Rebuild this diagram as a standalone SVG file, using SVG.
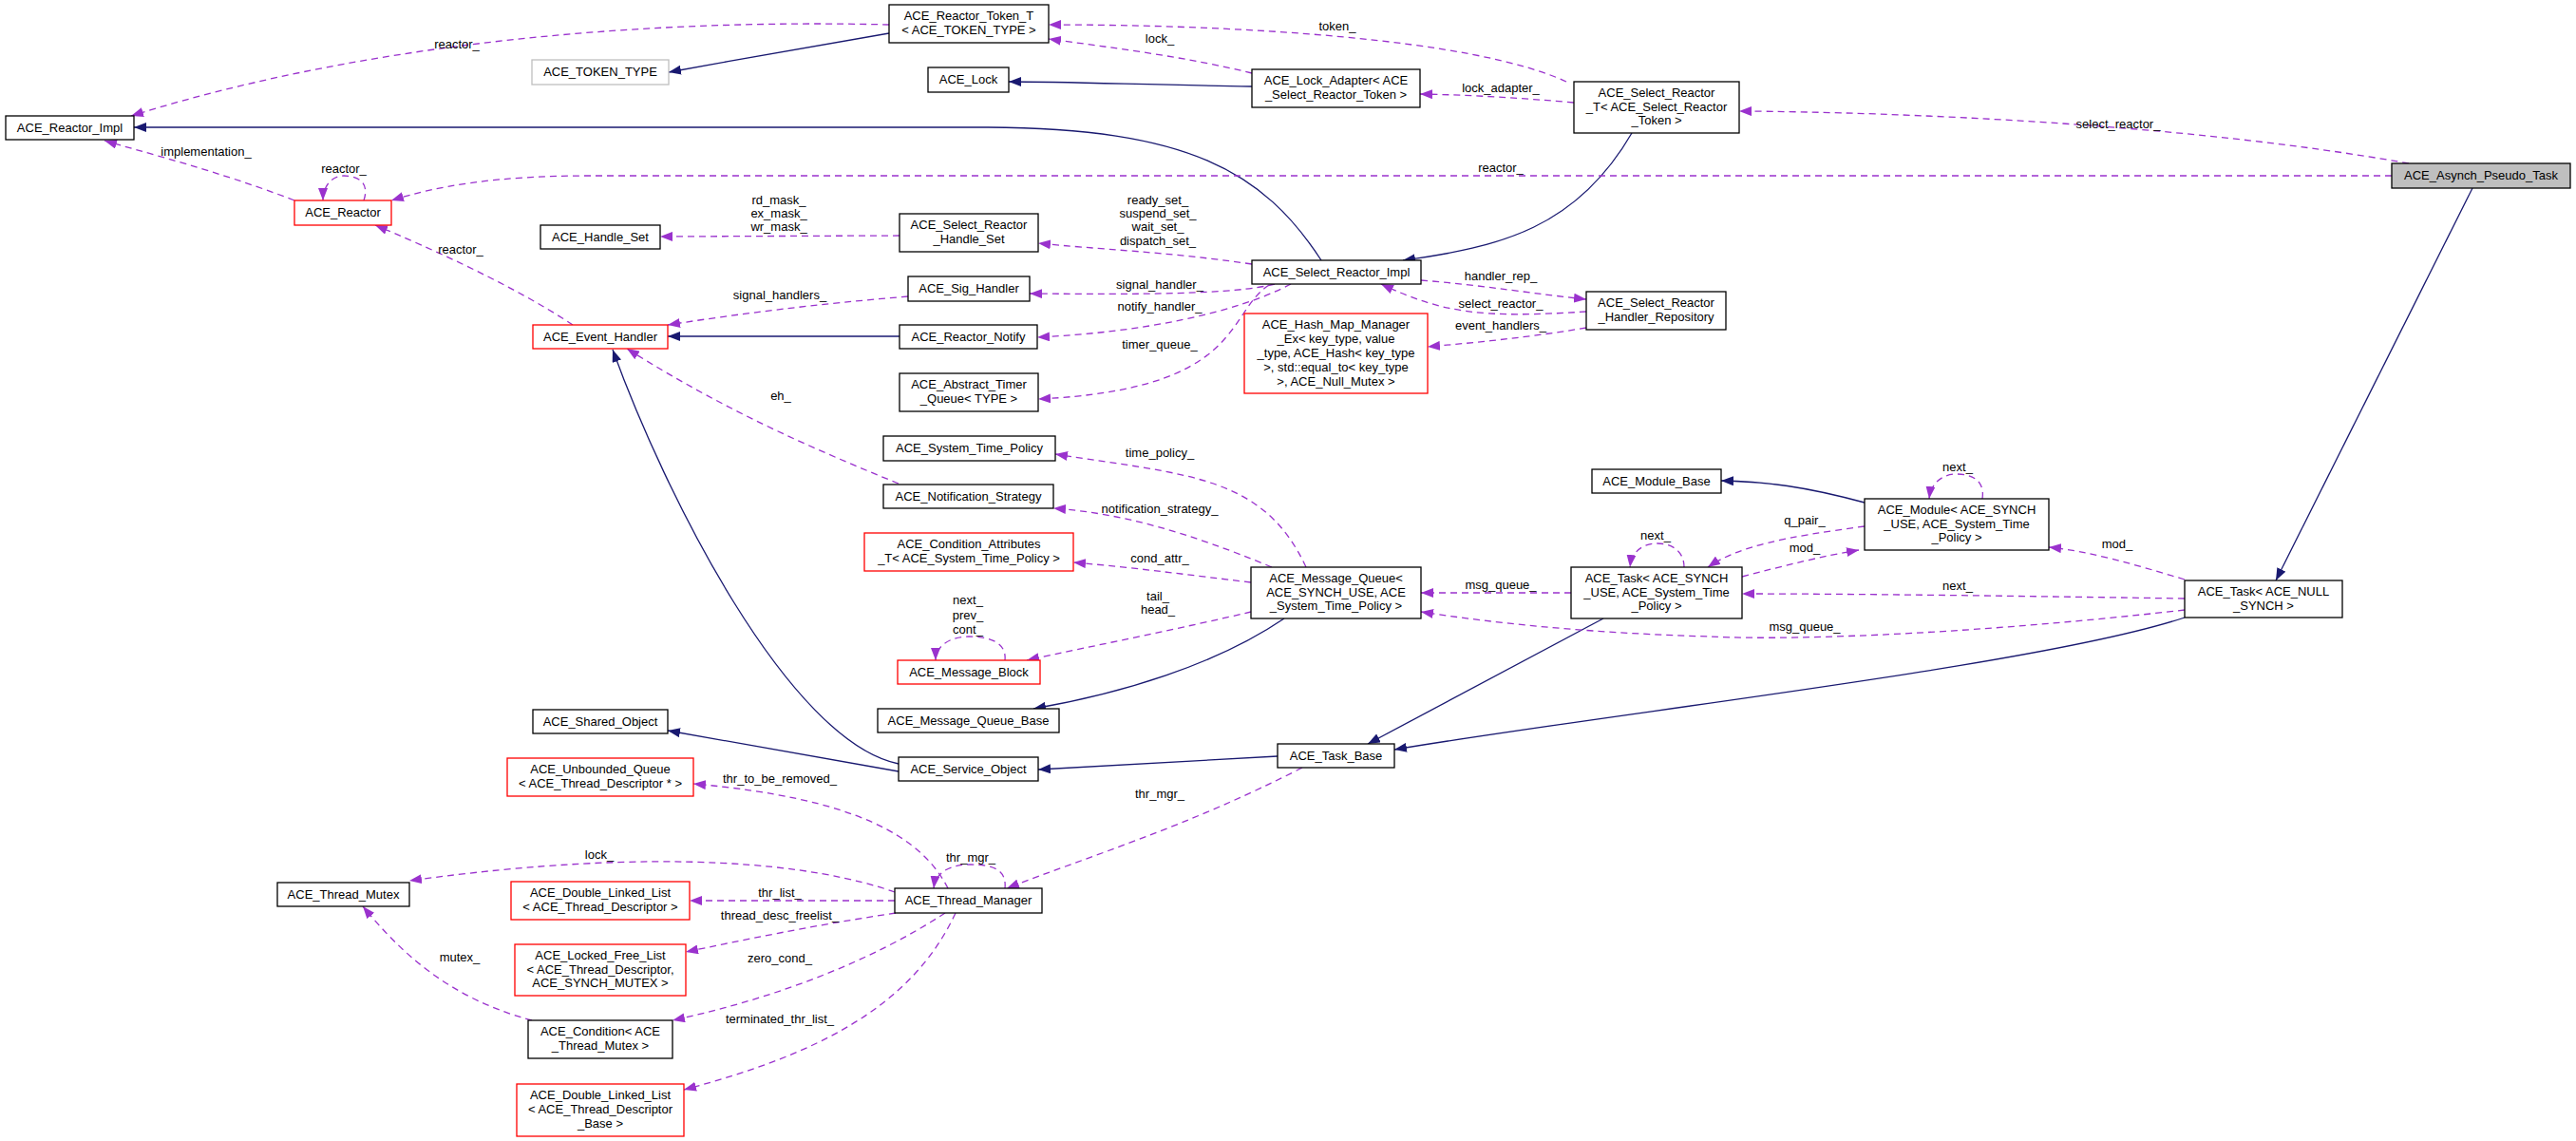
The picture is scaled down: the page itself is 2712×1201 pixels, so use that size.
<svg xmlns="http://www.w3.org/2000/svg" width="2712" height="1201" viewBox="0 0 2712 1201">
<style>
text{font-family:"Liberation Sans",Arial,sans-serif;font-size:13px;fill:#000}
.n text{text-anchor:middle}
.b{fill:#fff;stroke:#000;stroke-width:1.3}
.r{fill:#fff;stroke:#ff0000;stroke-width:1.3}
.g{fill:#fff;stroke:#bfbfbf;stroke-width:1.3}
.root{fill:#bfbfbf;stroke:#000;stroke-width:1.3}
.i{fill:none;stroke:#191970;stroke-width:1.3;marker-end:url(#ai)}
.u{fill:none;stroke:#9a32cd;stroke-width:1.3;stroke-dasharray:7,5;marker-end:url(#au)}
.l{text-anchor:middle}
</style>
<defs>
<marker id="ai" markerUnits="userSpaceOnUse" markerWidth="14" markerHeight="10" refX="13" refY="5" orient="auto"><path d="M0,0 L13,5 L0,10 z" fill="#191970"/></marker>
<marker id="au" markerUnits="userSpaceOnUse" markerWidth="14" markerHeight="10" refX="13" refY="5" orient="auto"><path d="M0,0 L13,5 L0,10 z" fill="#9a32cd"/></marker>
</defs>
<rect width="2712" height="1201" fill="#fff"/>
<g id="edges">
<path class="i" d="M936,35 C850,50 780,62 704,76"/>
<path class="i" d="M1318,91 C1200,89 1120,86 1062,86"/>
<path class="i" d="M1391,274 C1330,180 1250,135 1040,134 L141,134"/>
<path class="i" d="M1718,140 C1660,240 1580,260 1477,274"/>
<path class="i" d="M947,354 L703,354"/>
<path class="i" d="M946,804 C830,780 700,520 645,368"/>
<path class="i" d="M946,812 L703,769"/>
<path class="i" d="M1352,651 C1280,700 1180,730 1088,746"/>
<path class="i" d="M1345,796 L1093,810"/>
<path class="i" d="M1688,651 L1440,783"/>
<path class="i" d="M2300,650 C2150,700 1700,750 1468,789"/>
<path class="i" d="M1963,529 C1900,512 1860,507 1812,506"/>
<path class="i" d="M2603,198 L2396,611"/>
<path class="u" d="M936,26 C700,20 400,40 138,122"/>
<path class="u" d="M1649,86 C1550,40 1300,26 1104,26"/>
<path class="u" d="M1318,77 C1250,60 1170,50 1104,41"/>
<path class="u" d="M1657,108 C1600,103 1550,100 1495,99"/>
<path class="u" d="M2536,172 C2300,130 2000,118 1831,117"/>
<path class="u" d="M2518,185 L620,185 C520,185 460,196 412,211"/>
<path class="u" d="M310,211 C230,180 150,160 110,148"/>
<path class="u" d="M383,211 C390,190 374,185 362,185 C350,185 340,195 340,211"/>
<path class="u" d="M603,342 C540,300 450,260 395,237"/>
<path class="u" d="M947,248 L695,249"/>
<path class="u" d="M1318,278 C1230,265 1150,262 1093,256"/>
<path class="u" d="M956,312 C860,320 780,330 703,342"/>
<path class="u" d="M1342,299 C1300,310 1200,310 1084,309"/>
<path class="u" d="M1359,299 C1300,330 1200,350 1092,355"/>
<path class="u" d="M1336,300 C1290,330 1310,410 1093,420"/>
<path class="u" d="M1496,295 C1560,300 1620,310 1670,315"/>
<path class="u" d="M1670,328 C1560,335 1520,330 1454,299"/>
<path class="u" d="M1670,345 C1610,355 1560,360 1503,365"/>
<path class="u" d="M946,509 C850,470 760,430 660,367"/>
<path class="u" d="M1375,597 C1330,500 1250,500 1111,478"/>
<path class="u" d="M1339,597 C1250,560 1180,540 1109,535"/>
<path class="u" d="M1317,613 C1250,605 1200,598 1130,592"/>
<path class="u" d="M1317,644 C1250,660 1150,680 1081,695"/>
<path class="u" d="M1058,695 C1060,675 1040,670 1020,670 C1000,670 985,680 985,695"/>
<path class="u" d="M1654,624 L1496,624"/>
<path class="u" d="M1773,597 C1773,580 1760,572 1745,572 C1730,572 1718,580 1716,597"/>
<path class="u" d="M1963,554 C1880,565 1830,575 1798,597"/>
<path class="u" d="M1834,607 C1880,595 1920,585 1957,579"/>
<path class="u" d="M2300,610 C2250,595 2200,580 2157,576"/>
<path class="u" d="M2300,630 C2100,627 1950,625 1834,625"/>
<path class="u" d="M2300,642 C2100,665 1900,675 1800,670 C1700,667 1600,660 1496,644"/>
<path class="u" d="M2087,525 C2090,505 2075,499 2060,499 C2045,499 2033,508 2031,525"/>
<path class="u" d="M998,935 C970,880 900,840 730,825"/>
<path class="u" d="M1371,808 C1250,870 1150,900 1060,935"/>
<path class="u" d="M1058,935 C1060,915 1045,910 1022,910 C1000,910 985,918 983,935"/>
<path class="u" d="M942,939 C860,910 700,890 431,927"/>
<path class="u" d="M942,948 L726,948"/>
<path class="u" d="M943,961 C850,975 780,990 722,1002"/>
<path class="u" d="M995,961 C920,1010 820,1050 708,1074"/>
<path class="u" d="M1006,961 C960,1060 860,1110 720,1147"/>
<path class="u" d="M560,1074 C470,1050 420,1000 382,954"/>
<text class="l" x="481" y="51">reactor_</text>
<text class="l" x="217" y="164">implementation_</text>
<text class="l" x="362" y="182">reactor_</text>
<text class="l" x="820" y="215">rd_mask_</text>
<text class="l" x="820" y="229">ex_mask_</text>
<text class="l" x="820" y="243">wr_mask_</text>
<text class="l" x="485" y="267">reactor_</text>
<text class="l" x="821" y="315">signal_handlers_</text>
<text class="l" x="822" y="421">eh_</text>
<text class="l" x="1408" y="32">token_</text>
<text class="l" x="1221" y="45">lock_</text>
<text class="l" x="1580" y="97">lock_adapter_</text>
<text class="l" x="1580" y="181">reactor_</text>
<text class="l" x="2230" y="135">select_reactor_</text>
<text class="l" x="1219" y="215">ready_set_</text>
<text class="l" x="1219" y="229">suspend_set_</text>
<text class="l" x="1219" y="243">wait_set_</text>
<text class="l" x="1219" y="258">dispatch_set_</text>
<text class="l" x="1221" y="304">signal_handler_</text>
<text class="l" x="1221" y="327">notify_handler_</text>
<text class="l" x="1221" y="367">timer_queue_</text>
<text class="l" x="1580" y="295">handler_rep_</text>
<text class="l" x="1580" y="324">select_reactor_</text>
<text class="l" x="1580" y="347">event_handlers_</text>
<text class="l" x="1221" y="481">time_policy_</text>
<text class="l" x="1221" y="540">notification_strategy_</text>
<text class="l" x="1221" y="592">cond_attr_</text>
<text class="l" x="1219" y="632">tail_</text>
<text class="l" x="1219" y="646">head_</text>
<text class="l" x="1019" y="636">next_</text>
<text class="l" x="1019" y="652">prev_</text>
<text class="l" x="1019" y="667">cont_</text>
<text class="l" x="1580" y="620">msg_queue_</text>
<text class="l" x="1743" y="568">next_</text>
<text class="l" x="2061" y="496">next_</text>
<text class="l" x="1900" y="552">q_pair_</text>
<text class="l" x="1900" y="581">mod_</text>
<text class="l" x="2229" y="577">mod_</text>
<text class="l" x="2061" y="621">next_</text>
<text class="l" x="1900" y="664">msg_queue_</text>
<text class="l" x="821" y="824">thr_to_be_removed_</text>
<text class="l" x="631" y="904">lock_</text>
<text class="l" x="821" y="944">thr_list_</text>
<text class="l" x="821" y="968">thread_desc_freelist_</text>
<text class="l" x="484" y="1012">mutex_</text>
<text class="l" x="821" y="1013">zero_cond_</text>
<text class="l" x="821" y="1077">terminated_thr_list_</text>
<text class="l" x="1221" y="840">thr_mgr_</text>
<text class="l" x="1022" y="907">thr_mgr_</text>
</g>
<g class="n">
<g id="n1"><rect class="b" x="6" y="122" width="135" height="25"/><text x="73.5" y="139">ACE_Reactor_Impl</text></g>
<g id="n2"><rect class="g" x="560" y="63" width="144" height="26"/><text x="632" y="80">ACE_TOKEN_TYPE</text></g>
<g id="n3"><rect class="b" x="936" y="5" width="168" height="40"/><text x="1020" y="21">ACE_Reactor_Token_T</text><text x="1020" y="36">&lt; ACE_TOKEN_TYPE &gt;</text></g>
<g id="n4"><rect class="b" x="977" y="71" width="85" height="26"/><text x="1019.5" y="88">ACE_Lock</text></g>
<g id="n5"><rect class="b" x="1318" y="73" width="177" height="40"/><text x="1406.5" y="89">ACE_Lock_Adapter&lt; ACE</text><text x="1406.5" y="104">_Select_Reactor_Token &gt;</text></g>
<g id="n6"><rect class="b" x="1657" y="86" width="174" height="54"/><text x="1744" y="102">ACE_Select_Reactor</text><text x="1744" y="117">_T&lt; ACE_Select_Reactor</text><text x="1744" y="131">_Token &gt;</text></g>
<g id="n7"><rect class="root" x="2518" y="172" width="188" height="26"/><text x="2612" y="189">ACE_Asynch_Pseudo_Task</text></g>
<g id="n8"><rect class="r" x="310" y="211" width="102" height="26"/><text x="361" y="228">ACE_Reactor</text></g>
<g id="n9"><rect class="b" x="569" y="237" width="126" height="25"/><text x="632" y="254">ACE_Handle_Set</text></g>
<g id="n10"><rect class="b" x="947" y="225" width="146" height="40"/><text x="1020" y="241">ACE_Select_Reactor</text><text x="1020" y="256">_Handle_Set</text></g>
<g id="n11"><rect class="b" x="1318" y="274" width="178" height="25"/><text x="1407" y="291">ACE_Select_Reactor_Impl</text></g>
<g id="n12"><rect class="b" x="956" y="291" width="128" height="26"/><text x="1020" y="308">ACE_Sig_Handler</text></g>
<g id="n13"><rect class="r" x="561" y="342" width="142" height="25"/><text x="632" y="359">ACE_Event_Handler</text></g>
<g id="n14"><rect class="b" x="947" y="342" width="145" height="25"/><text x="1019.5" y="359">ACE_Reactor_Notify</text></g>
<g id="n15"><rect class="r" x="1310" y="330" width="193" height="84"/><text x="1406.5" y="346">ACE_Hash_Map_Manager</text><text x="1406.5" y="361">_Ex&lt; key_type, value</text><text x="1406.5" y="376">_type, ACE_Hash&lt; key_type</text><text x="1406.5" y="391">&gt;, std::equal_to&lt; key_type</text><text x="1406.5" y="406">&gt;, ACE_Null_Mutex &gt;</text></g>
<g id="n16"><rect class="b" x="1670" y="307" width="147" height="40"/><text x="1743.5" y="323">ACE_Select_Reactor</text><text x="1743.5" y="338">_Handler_Repository</text></g>
<g id="n17"><rect class="b" x="947" y="393" width="146" height="40"/><text x="1020" y="409">ACE_Abstract_Timer</text><text x="1020" y="424">_Queue&lt; TYPE &gt;</text></g>
<g id="n18"><rect class="b" x="930" y="459" width="181" height="26"/><text x="1020.5" y="476">ACE_System_Time_Policy</text></g>
<g id="n19"><rect class="b" x="1676" y="494" width="136" height="25"/><text x="1744" y="511">ACE_Module_Base</text></g>
<g id="n20"><rect class="b" x="930" y="510" width="179" height="25"/><text x="1019.5" y="527">ACE_Notification_Strategy</text></g>
<g id="n21"><rect class="b" x="1963" y="525" width="194" height="54"/><text x="2060" y="541">ACE_Module&lt; ACE_SYNCH</text><text x="2060" y="556">_USE, ACE_System_Time</text><text x="2060" y="570">_Policy &gt;</text></g>
<g id="n22"><rect class="r" x="910" y="561" width="220" height="40"/><text x="1020" y="577">ACE_Condition_Attributes</text><text x="1020" y="592">_T&lt; ACE_System_Time_Policy &gt;</text></g>
<g id="n23"><rect class="b" x="1317" y="597" width="179" height="54"/><text x="1406.5" y="613">ACE_Message_Queue&lt;</text><text x="1406.5" y="628">ACE_SYNCH_USE, ACE</text><text x="1406.5" y="642">_System_Time_Policy &gt;</text></g>
<g id="n24"><rect class="b" x="1654" y="597" width="180" height="54"/><text x="1744" y="613">ACE_Task&lt; ACE_SYNCH</text><text x="1744" y="628">_USE, ACE_System_Time</text><text x="1744" y="642">_Policy &gt;</text></g>
<g id="n25"><rect class="b" x="2300" y="611" width="166" height="39"/><text x="2383" y="627">ACE_Task&lt; ACE_NULL</text><text x="2383" y="642">_SYNCH &gt;</text></g>
<g id="n26"><rect class="r" x="945" y="695" width="150" height="25"/><text x="1020" y="712">ACE_Message_Block</text></g>
<g id="n27"><rect class="b" x="924" y="746" width="191" height="25"/><text x="1019.5" y="763">ACE_Message_Queue_Base</text></g>
<g id="n28"><rect class="b" x="561" y="747" width="142" height="25"/><text x="632" y="764">ACE_Shared_Object</text></g>
<g id="n29"><rect class="b" x="1345" y="783" width="123" height="25"/><text x="1406.5" y="800">ACE_Task_Base</text></g>
<g id="n30"><rect class="b" x="946" y="797" width="147" height="25"/><text x="1019.5" y="814">ACE_Service_Object</text></g>
<g id="n31"><rect class="r" x="534" y="798" width="196" height="40"/><text x="632" y="814">ACE_Unbounded_Queue</text><text x="632" y="829">&lt; ACE_Thread_Descriptor * &gt;</text></g>
<g id="n32"><rect class="b" x="292" y="929" width="139" height="25"/><text x="361.5" y="946">ACE_Thread_Mutex</text></g>
<g id="n33"><rect class="r" x="538" y="928" width="188" height="40"/><text x="632" y="944">ACE_Double_Linked_List</text><text x="632" y="959">&lt; ACE_Thread_Descriptor &gt;</text></g>
<g id="n34"><rect class="b" x="942" y="935" width="155" height="26"/><text x="1019.5" y="952">ACE_Thread_Manager</text></g>
<g id="n35"><rect class="r" x="542" y="994" width="180" height="54"/><text x="632" y="1010">ACE_Locked_Free_List</text><text x="632" y="1025">&lt; ACE_Thread_Descriptor,</text><text x="632" y="1039">ACE_SYNCH_MUTEX &gt;</text></g>
<g id="n36"><rect class="b" x="556" y="1074" width="152" height="40"/><text x="632" y="1090">ACE_Condition&lt; ACE</text><text x="632" y="1105">_Thread_Mutex &gt;</text></g>
<g id="n37"><rect class="r" x="544" y="1141" width="176" height="55"/><text x="632" y="1157">ACE_Double_Linked_List</text><text x="632" y="1172">&lt; ACE_Thread_Descriptor</text><text x="632" y="1187">_Base &gt;</text></g>
</g>
</svg>
